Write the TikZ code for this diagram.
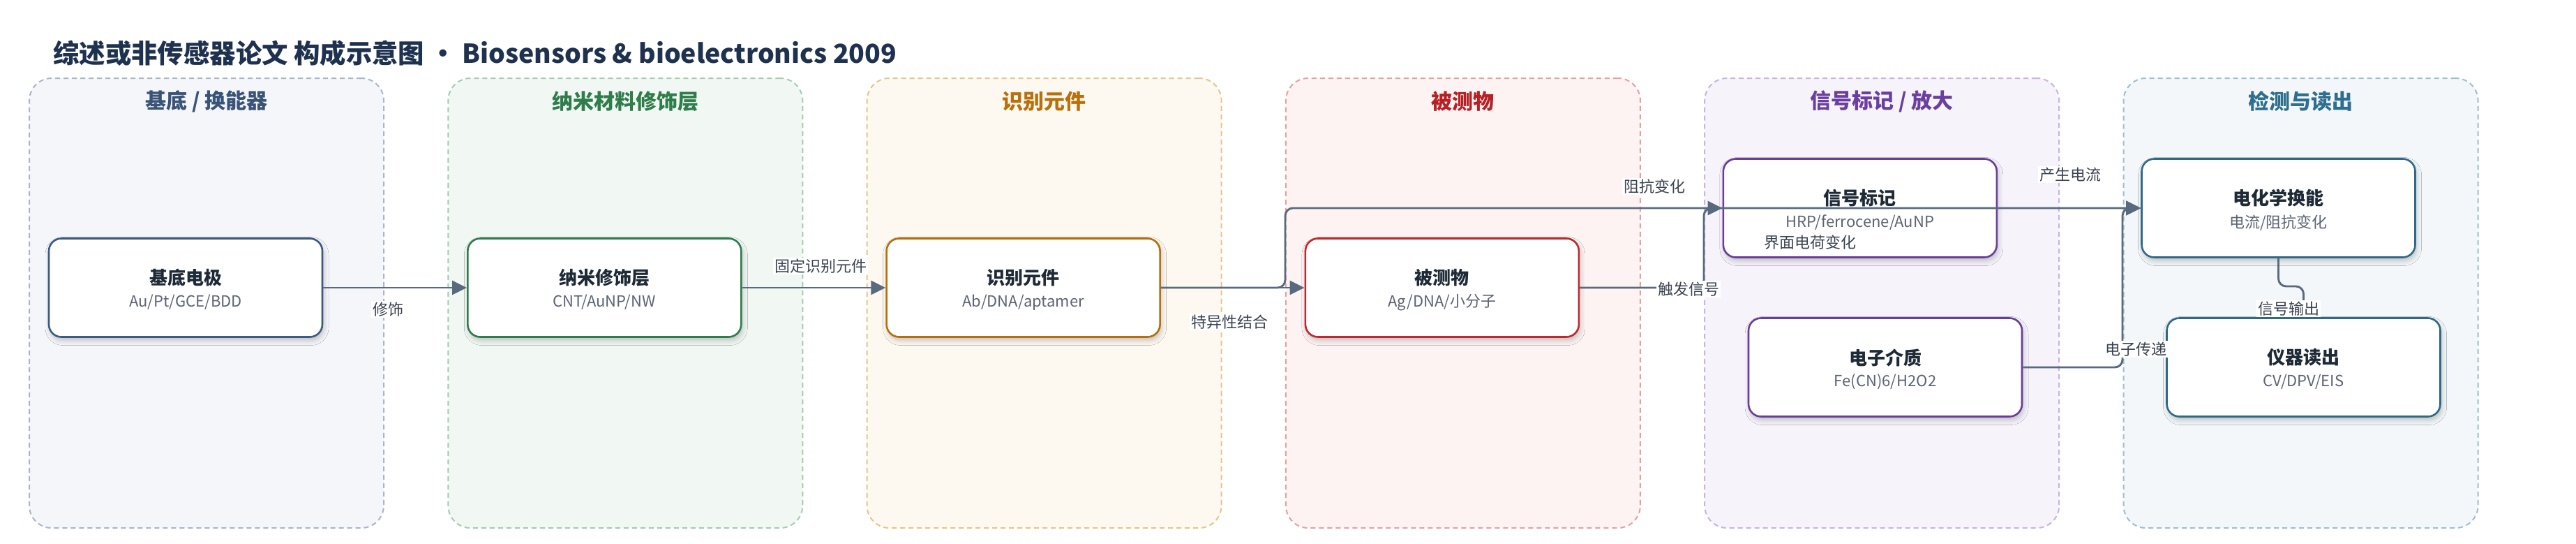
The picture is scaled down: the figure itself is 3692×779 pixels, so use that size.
\documentclass[tikz,border=0pt]{standalone}
\usepackage{fontspec}
\setmainfont{Noto Sans CJK SC}
\usetikzlibrary{arrows.meta,calc,shadows.blur}

\definecolor{g1f}{HTML}{F4F6FA}\definecolor{g1b}{HTML}{AAB5C7}\definecolor{g1t}{HTML}{3A5478}\definecolor{g1n}{HTML}{3D5A80}
\definecolor{g2f}{HTML}{F1F8F3}\definecolor{g2b}{HTML}{A3CCB1}\definecolor{g2t}{HTML}{2E7D4A}\definecolor{g2n}{HTML}{2E7D4F}
\definecolor{g3f}{HTML}{FDF9F1}\definecolor{g3b}{HTML}{E6C48E}\definecolor{g3t}{HTML}{B8700C}\definecolor{g3n}{HTML}{B86E0B}
\definecolor{g4f}{HTML}{FDF3F3}\definecolor{g4b}{HTML}{E6A0A0}\definecolor{g4t}{HTML}{B52025}\definecolor{g4n}{HTML}{C0282D}
\definecolor{g5f}{HTML}{F6F3FB}\definecolor{g5b}{HTML}{C9B3E0}\definecolor{g5t}{HTML}{6B3FA0}\definecolor{g5n}{HTML}{6A3D9A}
\definecolor{g6f}{HTML}{F3F7F9}\definecolor{g6b}{HTML}{9EBFCC}\definecolor{g6t}{HTML}{2E6E8E}\definecolor{g6n}{HTML}{2E6A88}
\definecolor{edgecol}{HTML}{5A6A7E}
\definecolor{titlecol}{HTML}{1F2A37}
\definecolor{subcol}{HTML}{5B6472}
\definecolor{labcol}{HTML}{3A4350}
\definecolor{headcol}{HTML}{1E3250}

\tikzset{
  grp/.style={rectangle, rounded corners=32pt, line width=2pt, dash pattern=on 7pt off 5pt,
    minimum width=508pt, minimum height=644pt, inner sep=0pt},
  nodebox/.style={rectangle, rounded corners=18pt, line width=2.6pt, fill=white,
    minimum width=392pt, minimum height=141pt, inner sep=0pt,
    blur shadow={shadow xshift=2pt, shadow yshift=-5pt, shadow blur radius=7pt, shadow opacity=22}},
  ntitle/.style={font=\fontsize{26}{30}\selectfont\bfseries, text=titlecol, inner sep=0pt},
  nsub/.style={font=\fontsize{22}{26}\selectfont, text=subcol, inner sep=0pt},
  gtitle/.style={font=\fontsize{30}{34}\selectfont\bfseries, inner sep=0pt},
  elabel/.style={font=\fontsize{22}{26}\selectfont, text=labcol, fill=white, inner sep=2pt},
  conn/.style={draw=edgecol, line width=2.9pt, -{Triangle[length=21pt,width=20pt]}, rounded corners=11pt},
}

\newcommand{\mkbox}[6]{%
  \node[nodebox, draw=#4] (#1) at (#2,#3) {};
  \node[ntitle] (#1t) at ($(#1.center)+(0,-14)$) {#5};
  \node[nsub] (#1s) at ($(#1.center)+(0,21)$) {#6};
}

\begin{document}
\begin{tikzpicture}[x=1pt,y=-1pt]
\useasboundingbox (0,0) rectangle (3692,779);

% heading
\node[anchor=west, inner sep=0pt, font=\fontsize{37.4}{44}\selectfont\bfseries, text=headcol] (head) at (76,76)
  {综述或非传感器论文 构成示意图 · Biosensors \& bioelectronics 2009};

% groups
\node[grp, draw=g1b, fill=g1f] (G1) at (296,434) {};
\node[grp, draw=g2b, fill=g2f] (G2) at (896.3,434) {};
\node[grp, draw=g3b, fill=g3f] (G3) at (1496.6,434) {};
\node[grp, draw=g4b, fill=g4f] (G4) at (2096.9,434) {};
\node[grp, draw=g5b, fill=g5f] (G5) at (2697.2,434) {};
\node[grp, draw=g6b, fill=g6f] (G6) at (3297.5,434) {};

\node[gtitle, text=g1t] (G1t) at (296,145) {基底 / 换能器};
\node[gtitle, text=g2t] (G2t) at (896.3,145) {纳米材料修饰层};
\node[gtitle, text=g3t] (G3t) at (1496.6,145) {识别元件};
\node[gtitle, text=g4t] (G4t) at (2096.9,145) {被测物};
\node[gtitle, text=g5t] (G5t) at (2697.2,145) {信号标记 / 放大};
\node[gtitle, text=g6t] (G6t) at (3297.5,145) {检测与读出};

% boxes
\mkbox{n1}{266}{412}{g1n}{基底电极}{Au/Pt/GCE/BDD}
\mkbox{n2}{866.3}{412}{g2n}{纳米修饰层}{CNT/AuNP/NW}
\mkbox{n3}{1466.6}{412}{g3n}{识别元件}{Ab/DNA/aptamer}
\mkbox{n4}{2066.9}{412}{g4n}{被测物}{Ag/DNA/小分子}
\mkbox{n5}{2665.8}{298}{g5n}{信号标记}{HRP/ferrocene/AuNP}
\mkbox{n7}{2702}{526}{g5n}{电子介质}{Fe(CN)6/H2O2}
\mkbox{n6}{3265.5}{298}{g6n}{电化学换能}{电流/阻抗变化}
\mkbox{n8}{3301.5}{526}{g6n}{仪器读出}{CV/DPV/EIS}

% routing coordinates
\coordinate (k4) at (1842,0);
\coordinate (k5) at (2442,0);
\coordinate (k7) at (3042,0);
\coordinate (k8) at (0,410);

% connectors
\draw[conn] (n1.east) -- (n2.west);
\draw[conn] (n2.east) -- (n3.west);
\draw[conn] (n3.east) -- (n4.west);
\draw[conn] (n3.east) -- (k4 |- n3.east) -- (k4 |- n6.west) -- (n6.west);
\draw[conn] (n4.east) -- (k5 |- n4.east) -- (k5 |- n5.west) -- (n5.west);
\draw[conn] (n5.east) -- (n6.west);
\draw[conn] (n7.east) -- (k7 |- n7.east) -- (k7 |- n6.west) -- (n6.west);
\draw[conn] (n6.south) -- (n6.south |- k8) -- (n8.north |- k8) -- (n8.north);

% labels
\node[elabel] (l1) at (556,443) {修饰};
\node[elabel] (l2) at (1176,381) {固定识别元件};
\node[elabel] (l3) at (1762,461) {特异性结合};
\node[elabel] (l4) at (2371,267) {阻抗变化};
\node[elabel] (l5) at (2420,414) {触发信号};
\node[elabel] (l6) at (2967,250) {产生电流};
\node[elabel] (l7) at (3061,500) {电子传递};
\node[elabel] (l8) at (3280,442) {信号输出};
\node[elabel, fill=none] (l9) at (2594,347) {界面电荷变化};
\end{tikzpicture}
\end{document}
